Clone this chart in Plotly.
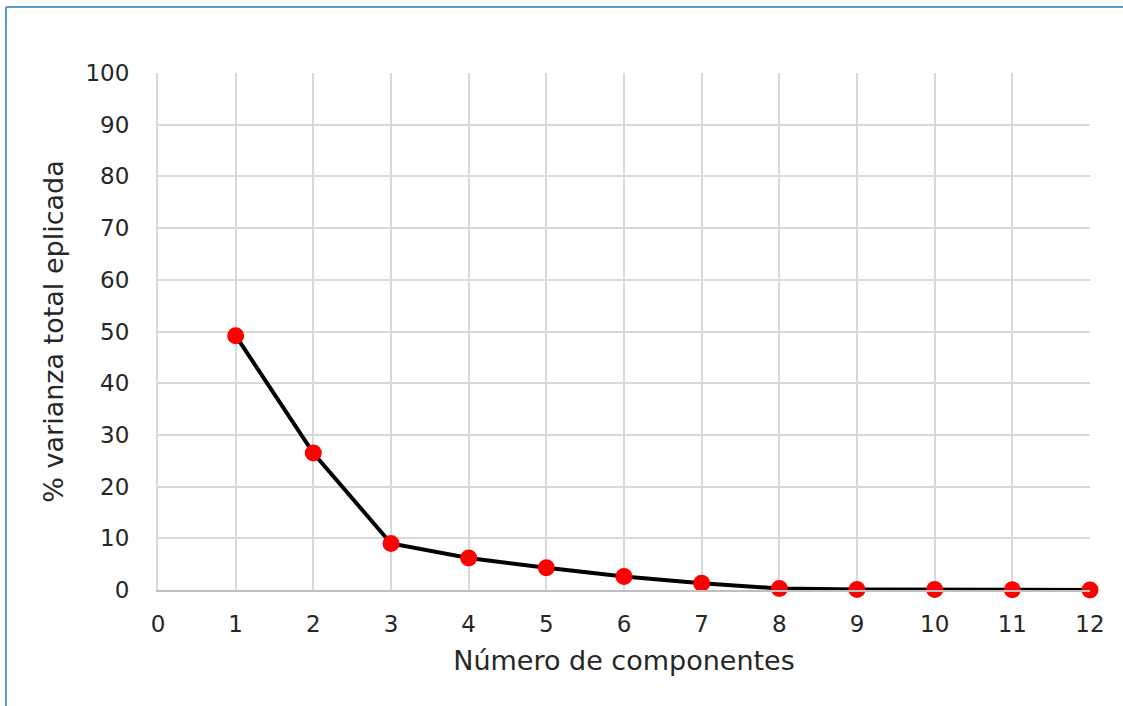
import plotly.graph_objects as go

components = [1, 2, 3, 4, 5, 6, 7, 8, 9, 10, 11, 12]
variance = [49.2, 26.5, 9.0, 6.2, 4.3, 2.6, 1.3, 0.3, 0.1, 0.1, 0.05, 0.0]
x_ticks = list(range(0, 13))
y_ticks = list(range(0, 101, 10))

W, H = 1123, 706
# plot area in page pixels
L, R, T, B = 158, 1090, 73, 590
FONT = "DejaVu Sans"

def px(xp):
    return (xp - L) / (R - L)

def py(yp):
    return (B - yp) / (B - T)

fig = go.Figure()
fig.add_trace(go.Scatter(
    x=components, y=variance, mode="lines+markers",
    line=dict(color="black", width=4),
    marker=dict(color="#ff0000", size=17, line=dict(width=0)),
    showlegend=False, cliponaxis=False,
))

fig.update_layout(
    width=W, height=H,
    margin=dict(l=L, r=W - R, t=T, b=H - B, autoexpand=False),
    paper_bgcolor="white", plot_bgcolor="white",
    font=dict(family=FONT, color="#262626", size=23),
    xaxis=dict(
        range=[0, 12], tickvals=x_ticks, ticktext=[str(v) for v in x_ticks],
        showgrid=True, gridcolor="#d9d9d9", gridwidth=2,
        showline=True, linecolor="#bfbfbf", linewidth=2,
        zeroline=False, ticks="", ticklabelstandoff=12,
        title=dict(text="Número de componentes", font=dict(size=27), standoff=16),
        fixedrange=True,
    ),
    yaxis=dict(
        range=[0, 100], tickvals=y_ticks, ticktext=[str(v) for v in y_ticks],
        showgrid=True, gridcolor="#d9d9d9", gridwidth=2,
        showline=True, linecolor="#d9d9d9", linewidth=2,
        zeroline=False, ticks="", ticklabelstandoff=22,
        title=dict(text="% varianza total eplicada", font=dict(size=27), standoff=14),
        fixedrange=True,
    ),
    shapes=[
        dict(type="line", xref="paper", yref="paper",
             x0=px(6), x1=px(1125), y0=py(7), y1=py(7),
             line=dict(color="#5b9bd5", width=2)),
        dict(type="line", xref="paper", yref="paper",
             x0=px(6), x1=px(6), y0=py(7), y1=py(708),
             line=dict(color="#5b9bd5", width=2)),
    ],
)

fig.write_html(
    "out.html",
    config={"displayModeBar": False, "staticPlot": True},
    post_script="document.body.style.margin='0';document.body.style.overflow='hidden';",
)
